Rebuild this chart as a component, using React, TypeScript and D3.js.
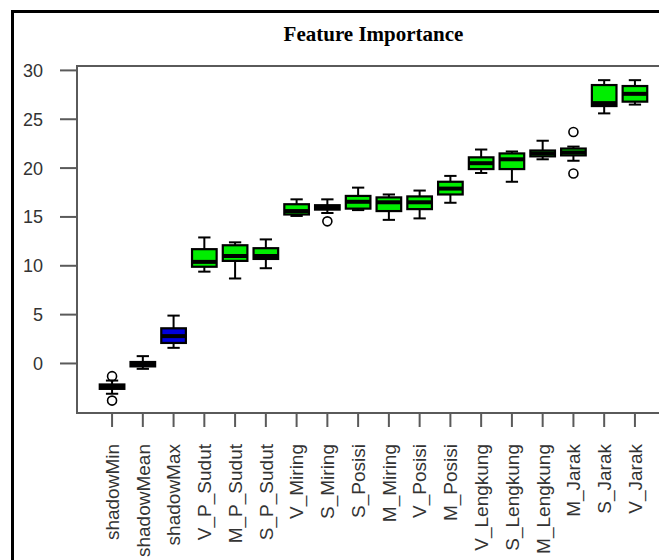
import React from "react";
import * as d3 from "d3";

const features = [
  "shadowMin", "shadowMean", "shadowMax", "V_P_Sudut", "M_P_Sudut", "S_P_Sudut",
  "V_Miring", "S_Miring", "S_Posisi", "M_Miring", "V_Posisi", "M_Posisi",
  "V_Lengkung", "S_Lengkung", "M_Lengkung", "M_Jarak", "S_Jarak", "V_Jarak",
];
const decision = [
  "shadow", "shadow", "shadow", "confirmed", "confirmed", "confirmed",
  "confirmed", "confirmed", "confirmed", "confirmed", "confirmed", "confirmed",
  "confirmed", "confirmed", "confirmed", "confirmed", "confirmed", "confirmed",
];
const lowerWhisker = [-3.1, -0.55, 1.6, 9.4, 8.7, 9.75, 15.1, 15.4, 15.7, 14.7, 14.85, 16.45, 19.5, 18.6, 20.9, 20.75, 25.6, 26.5];
const q1 = [-2.6, -0.3, 2.1, 9.9, 10.5, 10.7, 15.25, 15.75, 15.85, 15.6, 15.8, 17.3, 19.9, 19.9, 21.2, 21.3, 26.35, 26.8];
const median = [-2.4, -0.05, 2.8, 10.4, 11.0, 11.0, 15.6, 16.0, 16.55, 16.5, 16.5, 17.9, 20.5, 20.9, 21.5, 21.6, 26.65, 27.6];
const q3 = [-2.15, 0.15, 3.6, 11.7, 12.1, 11.8, 16.3, 16.2, 17.15, 17.0, 17.1, 18.6, 21.1, 21.5, 21.8, 22.0, 28.5, 28.4];
const upperWhisker = [-1.75, 0.75, 4.9, 12.9, 12.4, 12.7, 16.8, 16.8, 18.0, 17.3, 17.7, 19.2, 21.9, 21.7, 22.8, 22.2, 29.0, 29.0];
const outlierFeature = ["shadowMin", "shadowMin", "S_Miring", "M_Jarak", "M_Jarak"];
const outlierValue = [-1.3, -3.8, 14.55, 23.7, 19.45];
const yTicks = [0, 5, 10, 15, 20, 25, 30];
const title = "Feature Importance";

const W = 659;
const H = 560;
const left = 77;
const top = 66;
const bottom = 413;
const right = 670;

const colorFor: Record<string, string> = {
  shadow: "#0000dd",
  confirmed: "#00ee00",
};

export default function App() {
  const x = d3.scaleLinear().domain([-0.14, 19.14]).range([left, right]);
  const y = d3.scaleLinear().domain([-5.07, 30.45]).range([bottom, top]);
  const boxW = 0.8 * (x(1) - x(0));
  const capW = boxW / 2;
  const axisColor = "#5a5a5a";
  const labelColor = "#333";

  return (
    <svg
      width={W}
      height={H}
      style={{ position: "fixed", left: 0, top: 0, background: "#fff" }}
    >
      <rect x={0} y={0} width={W} height={H} fill="#fff" />
      {/* outer frame */}
      <line x1={12.5} y1={11.5} x2={W + 5} y2={11.5} stroke="#000" strokeWidth={3} />
      <line x1={12.5} y1={10} x2={12.5} y2={H + 5} stroke="#000" strokeWidth={3} />

      {/* title */}
      <text
        x={(left + right) / 2}
        y={41}
        textAnchor="middle"
        fontFamily="'Liberation Serif', serif"
        fontWeight="bold"
        fontSize={21}
        fill="#000"
      >
        {title}
      </text>

      {/* plot box */}
      <rect
        x={left}
        y={top}
        width={right - left}
        height={bottom - top}
        fill="none"
        stroke={axisColor}
        strokeWidth={2}
      />

      {/* y axis */}
      {yTicks.map((t) => (
        <g key={t}>
          <line x1={60} x2={left} y1={y(t)} y2={y(t)} stroke={axisColor} strokeWidth={2} />
          <text
            x={43}
            y={y(t)}
            dy="0.36em"
            textAnchor="end"
            fontFamily="'Liberation Sans', Arial, sans-serif"
            fontSize={18}
            fill={labelColor}
          >
            {t}
          </text>
        </g>
      ))}

      {/* x axis ticks & labels */}
      {features.map((f, i) => {
        const cx = x(i + 1);
        return (
          <g key={f}>
            <line x1={cx} x2={cx} y1={bottom} y2={bottom + 14} stroke={axisColor} strokeWidth={2} />
            <text
              transform={`translate(${cx},${444}) rotate(-90)`}
              dy="0.36em"
              textAnchor="end"
              fontFamily="'Liberation Sans', Arial, sans-serif"
              fontSize={19}
              fill={labelColor}
            >
              {f}
            </text>
          </g>
        );
      })}

      {/* boxes */}
      {features.map((f, i) => {
        const cx = x(i + 1);
        return (
          <g key={"b" + f}>
            <line x1={cx} x2={cx} y1={y(upperWhisker[i])} y2={y(q3[i])} stroke="#000" strokeWidth={2} />
            <line x1={cx} x2={cx} y1={y(lowerWhisker[i])} y2={y(q1[i])} stroke="#000" strokeWidth={2} />
            <line x1={cx - capW / 2} x2={cx + capW / 2} y1={y(upperWhisker[i])} y2={y(upperWhisker[i])} stroke="#000" strokeWidth={2} />
            <line x1={cx - capW / 2} x2={cx + capW / 2} y1={y(lowerWhisker[i])} y2={y(lowerWhisker[i])} stroke="#000" strokeWidth={2} />
            <rect
              x={cx - boxW / 2}
              y={y(q3[i])}
              width={boxW}
              height={y(q1[i]) - y(q3[i])}
              fill={colorFor[decision[i]]}
              stroke="#000"
              strokeWidth={2.2}
            />
            <line x1={cx - boxW / 2} x2={cx + boxW / 2} y1={y(median[i])} y2={y(median[i])} stroke="#000" strokeWidth={4} />
          </g>
        );
      })}

      {/* outliers */}
      {outlierFeature.map((f, k) => (
        <circle
          key={"o" + k}
          cx={x(features.indexOf(f) + 1)}
          cy={y(outlierValue[k])}
          r={4.5}
          fill="none"
          stroke="#000"
          strokeWidth={1.6}
        />
      ))}
    </svg>
  );
}
